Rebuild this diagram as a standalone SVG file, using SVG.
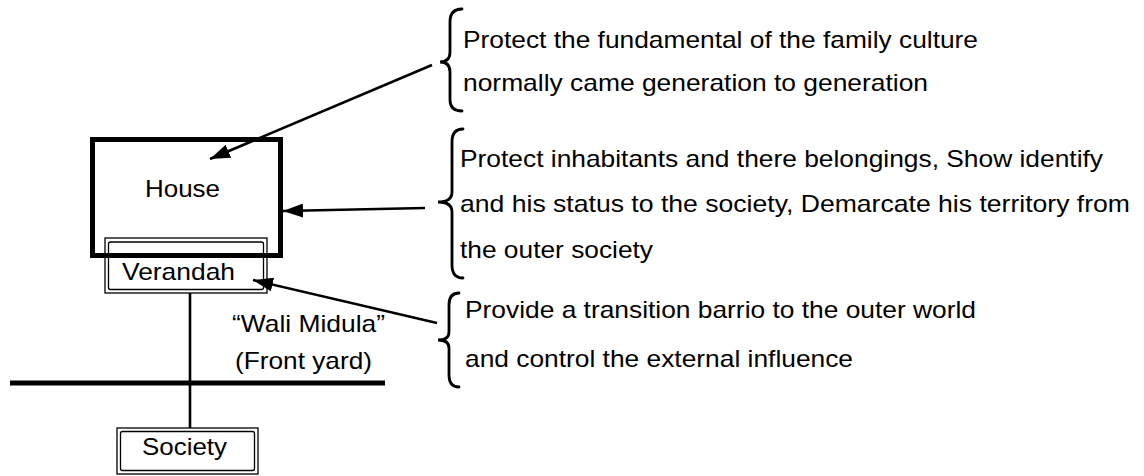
<svg xmlns="http://www.w3.org/2000/svg" width="1144" height="476" viewBox="0 0 1144 476">
<style>
text{font-family:"Liberation Sans",Arial,sans-serif;font-size:24px;fill:#000}
.ln{stroke:#000;stroke-width:2.6;fill:none}
.br{stroke:#000;stroke-width:2.8;fill:none;stroke-linecap:round}
.thin{stroke:#000;stroke-width:1.3;fill:none}
</style>
<defs>
<marker id="ah" markerUnits="userSpaceOnUse" markerWidth="20" markerHeight="14" refX="20" refY="7" orient="auto">
<path d="M0,0 L20,7 L0,14 z" fill="#000"/>
</marker>
</defs>
<rect width="1144" height="476" fill="#fff"/>
<g id="house">
<rect x="92.5" y="139.5" width="188" height="116" fill="none" stroke="#000" stroke-width="5"/>
<text x="145" y="197" textLength="75" lengthAdjust="spacingAndGlyphs">House</text>
</g>
<g id="verandah">
<rect class="thin" x="105" y="238" width="162" height="55"/>
<rect class="thin" x="108.5" y="242" width="155" height="47.5" rx="2"/>
<text x="122" y="280" textLength="113" lengthAdjust="spacingAndGlyphs">Verandah</text>
</g>
<g id="front-yard">
<text x="232" y="332" textLength="153" lengthAdjust="spacingAndGlyphs">“Wali Midula”</text>
<text x="235" y="369" textLength="137" lengthAdjust="spacingAndGlyphs">(Front yard)</text>
</g>
<g id="society">
<rect class="thin" x="117" y="428" width="141" height="46"/>
<rect class="thin" x="120.5" y="431.5" width="134" height="39" rx="2"/>
<text x="142" y="455" textLength="85" lengthAdjust="spacingAndGlyphs">Society</text>
</g>
<g id="note-culture">
<path class="br" d="M462,9 Q450,9 450,22 L450,52 Q450,62 440,62 Q450,62 450,72 L450,100 Q450,111 462,111"/>
<text x="463" y="48" textLength="515" lengthAdjust="spacingAndGlyphs">Protect the fundamental of the family culture</text>
<text x="463" y="91" textLength="465" lengthAdjust="spacingAndGlyphs">normally came generation to generation</text>
</g>
<g id="note-protect">
<path class="br" d="M463,129 Q452,129 452,142 L452,192 Q452,202 438,202 Q452,202 452,212 L452,265 Q452,278 463,278"/>
<text x="460" y="167" textLength="643" lengthAdjust="spacingAndGlyphs">Protect inhabitants and there belongings, Show identify</text>
<text x="460" y="212" textLength="670" lengthAdjust="spacingAndGlyphs">and his status to the society, Demarcate his territory from</text>
<text x="460" y="258" textLength="193" lengthAdjust="spacingAndGlyphs">the outer society</text>
</g>
<g id="note-transition">
<path class="br" d="M459,293 Q449,293 449,305 L449,332 Q449,340 438,340 Q449,340 449,348 L449,375 Q449,387 459,387"/>
<text x="465" y="318" textLength="511" lengthAdjust="spacingAndGlyphs">Provide a transition barrio to the outer world</text>
<text x="465" y="367" textLength="388" lengthAdjust="spacingAndGlyphs">and control the external influence</text>
</g>
<g id="connectors">
<line x1="10" y1="383" x2="385" y2="383" stroke="#000" stroke-width="5"/>
<line class="ln" x1="190" y1="293" x2="190" y2="428"/>
<line class="ln" x1="432" y1="65" x2="210" y2="159" marker-end="url(#ah)"/>
<line class="ln" x1="425" y1="208" x2="283" y2="211" marker-end="url(#ah)"/>
<line class="ln" x1="437" y1="323" x2="253" y2="280" marker-end="url(#ah)"/>
</g>
</svg>
